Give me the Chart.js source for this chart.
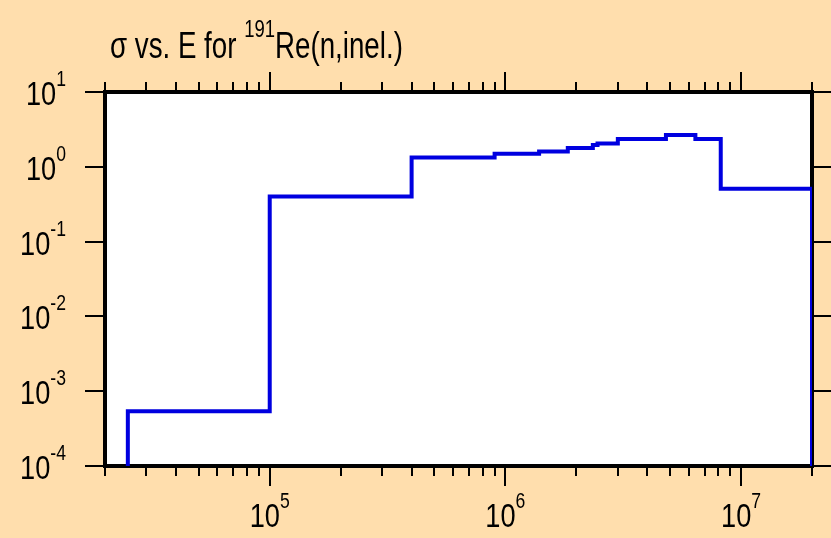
<!DOCTYPE html>
<html>
<head>
<meta charset="utf-8">
<script src="https://cdn.jsdelivr.net/npm/chart.js@4"></script>
<style>
  html, body { margin: 0; padding: 0; background: #FFDEAD; }
  #wrap { width: 831px; height: 538px; position: relative; }
</style>
</head>
<body>
<div id="wrap"><canvas id="c" width="831" height="538"></canvas></div>
<script>
// ---- data ----
const energies = [2.5e4, 2.5e4, 1e5, 4e5, 9e5, 1.39e6, 1.84e6, 2.35e6, 2.46e6, 3.0e6, 4.8e6, 6.4e6, 8.2e6, 2e7];
const sigma    = [1e-4, 5.4e-4, 0.40, 1.33, 1.49, 1.60, 1.79, 1.95, 2.05, 2.35, 2.66, 2.35, 0.508, 1e-4];
const xMajorExponents = [5, 6, 7];
const yMajorExponents = [-4, -3, -2, -1, 0, 1];
const tickBase = '10';
const titleMain = 'σ vs. E for ';
const titleSup = '191';
const titleTail = 'Re(n,inel.)';
const xMin = 2e4, xMax = 2e7, yMin = 1e-4, yMax = 10;

const FONT = '"Liberation Sans", Arial, Helvetica, sans-serif';

// draws text condensed horizontally; returns advance width in canvas px
function narrowText(ctx, text, x, y, size, k) {
  ctx.font = size + 'px ' + FONT;
  const w = ctx.measureText(text).width * k;
  ctx.save();
  ctx.translate(x, y);
  ctx.scale(k, 1);
  ctx.textAlign = 'left';
  ctx.textBaseline = 'alphabetic';
  ctx.fillText(text, 0, 0);
  ctx.restore();
  return w;
}
function narrowWidth(ctx, text, size, k) {
  ctx.font = size + 'px ' + FONT;
  return ctx.measureText(text).width * k;
}

function drawPow(ctx, base, exp, x, y, align, size, supSize, k) {
  const es = String(exp);
  const wb = narrowWidth(ctx, base, size, k);
  const we = narrowWidth(ctx, es, supSize, k);
  const total = wb + we;
  let x0 = x;
  if (align === 'center') x0 = x - total / 2;
  else if (align === 'right') x0 = x - total;
  narrowText(ctx, base, x0, y, size, k);
  narrowText(ctx, es, x0 + wb, y - size * 0.56, supSize, k);
}

const framePlugin = {
  id: 'frame',
  beforeDraw(chart) {
    const { ctx, chartArea: a } = chart;
    ctx.save();
    ctx.fillStyle = '#FFDEAD';
    ctx.fillRect(0, 0, chart.width, chart.height);
    ctx.fillStyle = '#FFFFFF';
    ctx.fillRect(a.left, a.top, a.right - a.left, a.bottom - a.top);
    ctx.restore();
  },
  beforeDatasetsDraw(chart) {
    const { ctx, chartArea: a } = chart;
    const xs = chart.scales.x, ys = chart.scales.y;
    ctx.save();
    ctx.strokeStyle = '#000';
    ctx.lineWidth = 2;
    ctx.beginPath();
    for (let d = 4; d <= 7; d++) {
      for (let m = 1; m <= 9; m++) {
        const v = m * Math.pow(10, d);
        if (v < xMin * 0.999 || v > xMax * 1.001) continue;
        const px = Math.round(xs.getPixelForValue(v));
        const len = m === 1 ? 20 : 10;
        ctx.moveTo(px, a.bottom); ctx.lineTo(px, a.bottom + len);
        ctx.moveTo(px, a.top); ctx.lineTo(px, a.top - len);
      }
    }
    yMajorExponents.forEach(e => {
      const py = Math.round(ys.getPixelForValue(Math.pow(10, e)));
      ctx.moveTo(a.left, py); ctx.lineTo(a.left - 20, py);
      ctx.moveTo(a.right, py); ctx.lineTo(a.right + 20, py);
    });
    ctx.stroke();
    ctx.lineWidth = 4;
    ctx.strokeRect(a.left, a.top, a.right - a.left, a.bottom - a.top);
    ctx.restore();
  },
  afterDatasetsDraw(chart) {
    const { ctx, chartArea: a } = chart;
    const xs = chart.scales.x, ys = chart.scales.y;
    ctx.save();
    ctx.fillStyle = '#000';
    xMajorExponents.forEach(e => {
      const px = xs.getPixelForValue(Math.pow(10, e));
      drawPow(ctx, tickBase, e, px, a.bottom + 61, 'center', 34, 22, 0.8);
    });
    yMajorExponents.forEach(e => {
      const py = ys.getPixelForValue(Math.pow(10, e));
      drawPow(ctx, tickBase, e, 66, py + 13, 'right', 34, 22, 0.8);
    });
    let tx = 110;
    const ty = 58;
    tx += narrowText(ctx, titleMain, tx, ty, 36, 0.77);
    tx += narrowText(ctx, titleSup, tx, ty - 21, 24, 0.77);
    narrowText(ctx, titleTail, tx, ty, 36, 0.77);
    ctx.restore();
  }
};

new Chart(document.getElementById('c'), {
  type: 'line',
  data: {
    datasets: [{
      data: energies.map((e, i) => ({ x: e, y: sigma[i] })),
      stepped: 'before',
      borderColor: '#0000E0',
      borderWidth: 4,
      pointRadius: 0,
      fill: false,
      tension: 0
    }]
  },
  options: {
    responsive: false,
    devicePixelRatio: 1,
    animation: false,
    layout: { padding: { left: 105, top: 92, right: 19, bottom: 72 } },
    scales: {
      x: { type: 'logarithmic', min: xMin, max: xMax, display: false },
      y: { type: 'logarithmic', min: yMin, max: yMax, display: false }
    },
    plugins: { legend: { display: false }, tooltip: { enabled: false }, title: { display: false } }
  },
  plugins: [framePlugin]
});
</script>
</body>
</html>
